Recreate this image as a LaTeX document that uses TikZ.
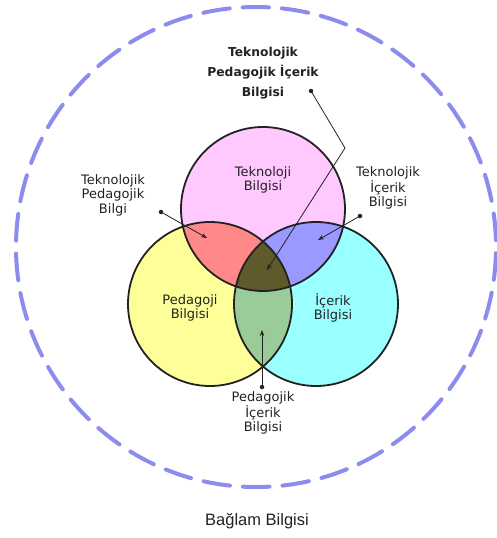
\documentclass[tikz,border=0pt]{standalone}
\usepackage{fontspec}
\setmainfont{DejaVu Sans}
\newfontfamily\captionfont{Liberation Sans}
\usetikzlibrary{arrows.meta}
\definecolor{techfill}{RGB}{255,200,255}
\definecolor{pedfill}{RGB}{255,255,153}
\definecolor{contfill}{RGB}{153,255,255}
\definecolor{tpfill}{RGB}{255,136,136}
\definecolor{tcfill}{RGB}{153,153,255}
\definecolor{pcfill}{RGB}{153,204,153}
\definecolor{tpcfill}{RGB}{94,90,44}
\definecolor{ctxline}{RGB}{140,140,238}
\definecolor{ink}{RGB}{34,34,34}

\begin{document}
\begin{tikzpicture}[x=1pt,y=-1pt,
  circ/.style={draw=ink, line width=1.8pt},
  lbl/.style={text=ink, align=center, font=\fontsize{13}{14.5}\selectfont, inner sep=0pt},
  ttl/.style={text=ink, align=center, font=\bfseries\fontsize{12.3}{20}\selectfont, inner sep=0pt},
  dot/.style={circle, fill=ink, inner sep=0pt, minimum size=4.5pt},
  pointer/.style={draw=ink, line width=0.8pt, -{Stealth[length=6pt,width=4.5pt]}},
  ctxdash/.style={draw=ctxline, line width=4pt, line cap=round,
    dash pattern=on 26.7pt off 13pt, dash phase=13.35pt},
]
\useasboundingbox (0,0) rectangle (496,538);

% centres of the three knowledge circles and of the context ring
\coordinate (T) at (263,209);
\coordinate (P) at (210,304);
\coordinate (C) at (316,304);
\coordinate (ctx) at (256,247);

% context ring, starting at its top point
\draw[ctxdash] ([yshift=240pt]ctx) arc[start angle=90, end angle=450, radius=240pt];

% base fills
\fill[techfill] (T) circle[radius=82pt];
\fill[pedfill] (P) circle[radius=82pt];
\fill[contfill] (C) circle[radius=82pt];

% pairwise overlaps
\begin{scope}
  \clip (T) circle[radius=82pt];
  \fill[tpfill] (P) circle[radius=82pt];
  \fill[tcfill] (C) circle[radius=82pt];
\end{scope}
\begin{scope}
  \clip (P) circle[radius=82pt];
  \fill[pcfill] (C) circle[radius=82pt];
\end{scope}
% triple overlap
\begin{scope}
  \clip (T) circle[radius=82pt];
  \clip (P) circle[radius=82pt];
  \fill[tpcfill] (C) circle[radius=82pt];
\end{scope}

% outlines
\draw[circ] (T) circle[radius=82pt];
\draw[circ] (P) circle[radius=82pt];
\draw[circ] (C) circle[radius=82pt];

% labels inside the circles
\node[lbl] (tk) at (263,180) {Teknoloji\\Bilgisi};
\node[lbl] (pk) at (190,308) {Pedagoji\\Bilgisi};
\node[lbl] (ck) at (333,308) {İçerik\\Bilgisi};

% outside labels
\node[ttl] (tpacklbl) at (263,73) {Teknolojik\\Pedagojik İçerik\\Bilgisi};
\node[lbl] (tpklbl) at (113,195) {Teknolojik\\Pedagojik\\Bilgi};
\node[lbl] (tcklbl) at (388,188) {Teknolojik\\İçerik\\Bilgisi};
\node[lbl] (pcklbl) at (263,413) {Pedagojik\\İçerik\\Bilgisi};
\node[text=ink, inner sep=0pt, font=\captionfont\fontsize{16.5}{20}\selectfont] (ctxlbl) at (257,521) {Bağlam Bilgisi};

% pointers from the labels into the regions
\node[dot] (tpackdot) at (311,91) {};
\coordinate (tpackbend) at (345,148);
\coordinate (tpacktip) at (267,270);
\draw[pointer] (tpackdot.center) -- (tpackbend) -- (tpacktip);

\node[dot] (tpkdot) at (161,212) {};
\coordinate (tpktip) at (207,238);
\draw[pointer] (tpkdot.center) -- (tpktip);

\node[dot] (tckdot) at (360,216) {};
\coordinate (tcktip) at (318,240);
\draw[pointer] (tckdot.center) -- (tcktip);

\node[dot] (pckdot) at (262,387) {};
\coordinate (pcktip) at (262,330);
\draw[pointer] (pckdot.center) -- (pcktip);
\end{tikzpicture}
\end{document}
